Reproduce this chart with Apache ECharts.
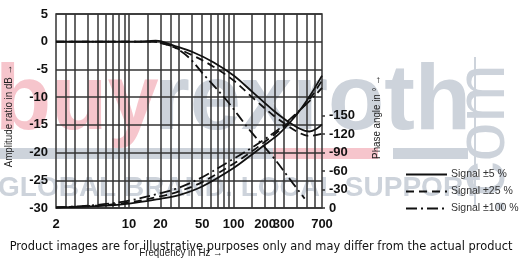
<!DOCTYPE html>
<html>
<head>
<meta charset="utf-8">
<script src="https://cdn.jsdelivr.net/npm/echarts@6/dist/echarts.min.js"></script>
<style>html,body{margin:0;padding:0;background:#fff}#c{width:520px;height:260px}</style>
</head>
<body>
<div id="c"></div>
<script>
// Tick labels
var xTickLabels = [2, 10, 20, 50, 100, 200, 300, 700];
var xGridLines = [2.5, 3, 4, 5, 6, 7, 8, 9, 10, 15, 20, 25, 30, 40, 50, 60, 70, 80, 90, 100, 150, 200, 250, 300, 400, 500, 600];
var phaseTickLabels = [0, -30, -60, -90, -120, -150];
var seriesNames = ['Signal \u00b15 %', 'Signal \u00b125 %', 'Signal \u00b1100 %'];

// Amplitude ratio in dB  [frequency Hz, dB]
var amp5 = [[2,0],[5,0],[10,0],[15,0.1],[18,0.2],[20,0.1],[26,-0.6],[41,-1.9],[64,-3.7],[100,-6.1],[150,-9],[240,-12.4],[320,-14.2],[430,-15.7],[530,-16.2],[610,-15.8],[700,-14.9]];
var amp25 = [[2,0],[10,0],[17,0],[20,-0.2],[26,-0.9],[41,-2.5],[64,-4.5],[100,-7],[150,-10],[240,-13.3],[320,-15],[430,-16.5],[530,-17],[700,-16.6]];
var amp100 = [[2,0],[10,0],[17,0],[22,-0.4],[28.4,-1.2],[38,-3],[51,-5.8],[86,-10.6],[143,-16],[238,-20.8],[371,-25.6],[478,-28.3]];

// Phase angle in degrees [frequency Hz, deg]
var ph5 = [[2,-1],[5,-3],[10,-7],[20,-15],[30,-21],[50,-35],[100,-65],[150,-87],[200,-103],[270,-120],[350,-140],[450,-163],[550,-185],[700,-215]];
var ph25 = [[2,-1],[5,-4],[10,-9],[20,-19],[30,-27],[50,-42],[100,-72],[150,-92],[200,-108],[270,-125],[350,-142],[450,-162],[550,-180],[700,-207]];
var ph100 = [[2,-1],[5,-5],[10,-12],[20,-24],[30,-33],[50,-50],[100,-80],[150,-98],[200,-112],[270,-128],[350,-145],[450,-162],[550,-176],[700,-195]];

var FONT = "'Liberation Sans Narrow', 'Liberation Sans', Arial, sans-serif";
var WM = "'Liberation Sans', Arial, sans-serif";
var dashDot = [11, 4, 2, 4];
var dashed = [8, 5];

function lineSeries(name, data, yIdx, type) {
  return {
    name: name, type: 'line', data: data, yAxisIndex: yIdx,
    smooth: 0.35, symbol: 'none', silent: true,
    itemStyle: { color: '#111' },
    lineStyle: { color: '#111', width: 1.8, type: type },
    z: 5
  };
}

var chart = echarts.init(document.getElementById('c'), null, { renderer: 'canvas' });
var option = {
  animation: false,
  backgroundColor: '#fff',
  grid: { left: 56, right: 198, top: 14, bottom: 52, show: true, borderColor: '#333', borderWidth: 1.5, backgroundColor: 'transparent' },
  xAxis: {
    type: 'log', logBase: 10, min: 2, max: 700,
    axisLine: { show: false }, axisTick: { show: false }, splitLine: { show: false }, minorTick: { show: false },
    axisLabel: { customValues: xTickLabels, fontFamily: FONT, fontWeight: 'bold', fontSize: 13, color: '#111', margin: 10,
      formatter: function (v) { return String(Math.round(v)); } }
  },
  yAxis: [
    {
      type: 'value', min: -30, max: 5, interval: 5,
      axisLine: { show: false }, axisTick: { show: false },
      splitLine: { show: true, lineStyle: { color: '#333', width: 1.5 } },
      axisLabel: { fontFamily: FONT, fontWeight: 'bold', fontSize: 13, color: '#111', margin: 8 }
    },
    {
      type: 'value', min: -315, max: 0, inverse: true, position: 'right',
      axisLine: { show: false }, splitLine: { show: false },
      axisTick: { show: true, customValues: phaseTickLabels, length: 3, lineStyle: { color: '#333', width: 1.5 } },
      axisLabel: { customValues: phaseTickLabels, fontFamily: FONT, fontWeight: 'bold', fontSize: 13, color: '#111', margin: 7 }
    }
  ],
  legend: {
    data: seriesNames, orient: 'vertical', left: 400, top: 164, itemWidth: 41, itemHeight: 10, itemGap: 6,
    itemStyle: { opacity: 0 },
    textStyle: { fontFamily: WM, fontSize: 10.5, color: '#333', padding: [0, 0, 0, -1] }, selectedMode: false
  },
  graphic: [
    // watermark
    { type: 'rect', silent: true, z: -10, shape: { x: 0, y: 148, width: 273, height: 11 }, style: { fill: '#cdd3db' } },
    { type: 'rect', silent: true, z: -10, shape: { x: 273, y: 148, width: 105, height: 11 }, style: { fill: '#f6c5cc' } },
    { type: 'rect', silent: true, z: -10, shape: { x: 393, y: 148, width: 75, height: 11 }, style: { fill: '#cdd3db' } },
    { type: 'text', silent: true, z: -10, left: -5, top: 58, style: { text: 'buy', fontFamily: WM, fontWeight: 'bold', fontSize: 92, fill: '#f6c5cc' } },
    { type: 'text', silent: true, z: -10, left: 154, top: 58, style: { text: 'rexroth', fontFamily: WM, fontWeight: 'bold', fontSize: 92, fill: '#cdd3db' } },
    { type: 'rect', silent: true, z: -10, shape: { x: 474, y: 57, width: 2, height: 150 }, style: { fill: '#cdd3db' } },
    { type: 'text', silent: true, z: -10, x: 520, y: 140, rotation: Math.PI / 2, style: { text: '.com', fontFamily: WM, fontSize: 70, fill: '#cdd3db', align: 'center', verticalAlign: 'bottom' } },
    { type: 'text', silent: true, z: -10, left: -2, top: 174, style: { text: 'GLOBAL BRAND. LOCAL SUPPORT', fontFamily: WM, fontWeight: 'bold', fontSize: 28, fill: '#cdd3db' } },
    // axis names
    { type: 'text', silent: true, x: 9, y: 116, rotation: Math.PI / 2, scaleX: 0.85, style: { text: 'Amplitude ratio in dB \u2192', fontFamily: WM, fontSize: 11.5, fill: '#222', align: 'center', verticalAlign: 'middle' } },
    { type: 'text', silent: true, x: 377, y: 117, rotation: Math.PI / 2, scaleX: 0.85, style: { text: 'Phase angle in \u00b0 \u2192', fontFamily: WM, fontSize: 11.5, fill: '#222', align: 'center', verticalAlign: 'middle' } },
    { type: 'text', silent: true, x: 181, y: 253, scaleX: 0.85, style: { text: 'Frequency in Hz \u2192', fontFamily: WM, fontSize: 11.5, fill: '#222', align: 'center', verticalAlign: 'middle' } },
    { type: 'text', silent: true, x: 261, y: 247, z: 100, scaleX: 0.975, style: { text: 'Product images are for illustrative purposes only and may differ from the actual product', fontFamily: "'DejaVu Sans', sans-serif", fontSize: 11.7, fill: '#111', align: 'center', verticalAlign: 'middle' } }
  ],
  series: [
    {
      name: 'grid', type: 'line', data: [], silent: true,
      markLine: {
        silent: true, symbol: 'none', animation: false,
        label: { show: false },
        lineStyle: { color: '#333', width: 1.5, type: 'solid' },
        data: xGridLines.map(function (v) { return { xAxis: v }; })
      }
    },
    lineSeries(seriesNames[0], amp5, 0, 'solid'),
    lineSeries(seriesNames[1], amp25, 0, dashed),
    lineSeries(seriesNames[2], amp100, 0, dashDot),
    lineSeries(seriesNames[0], ph5, 1, 'solid'),
    lineSeries(seriesNames[1], ph25, 1, dashed),
    lineSeries(seriesNames[2], ph100, 1, dashDot)
  ]
};
chart.setOption(option);
</script>
</body>
</html>
